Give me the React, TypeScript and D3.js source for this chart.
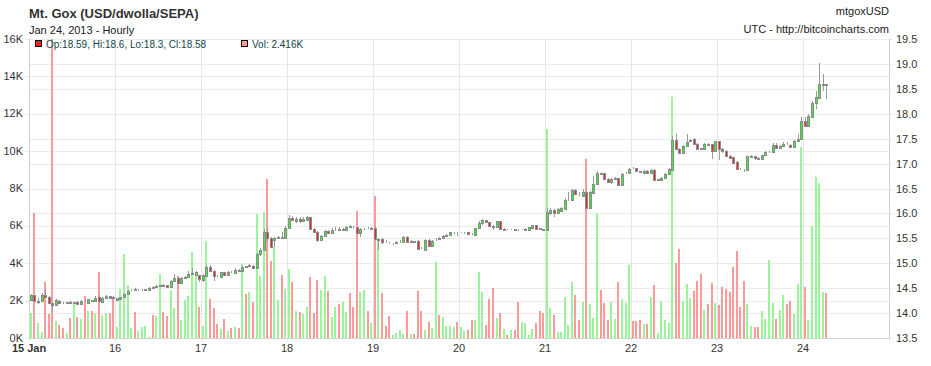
import React from 'react';
import * as d3 from 'd3';

// hourly candles, Jan 15 2013 00:00 UTC onwards
const START = Date.UTC(2013, 0, 15);
const END = Date.UTC(2013, 0, 25);
const HOUR = 3600 * 1000;

const opens = [
  14.26, 14.36, 14.23, 14.24, 14.36, 14.33, 14.21, 14.16, 14.25, 14.21,
  14.2, 14.23, 14.21, 14.23, 14.18, 14.25, 14.2, 14.26, 14.24, 14.32,
  14.22, 14.31, 14.34, 14.32, 14.27, 14.28, 14.32, 14.39, 14.46, 14.49,
  14.46, 14.46, 14.46, 14.47, 14.53, 14.53, 14.55, 14.57, 14.56, 14.53,
  14.64, 14.71, 14.6, 14.7, 14.72, 14.78, 14.76, 14.76, 14.67, 14.75,
  14.93, 14.85, 14.75, 14.73, 14.82, 14.76, 14.83, 14.8, 14.86, 14.85,
  14.94, 14.94, 14.95, 14.9, 15.18, 15.27, 15.63, 15.5, 15.47, 15.5,
  15.52, 15.5, 15.71, 15.9, 15.85, 15.89, 15.85, 15.87, 15.92, 15.68,
  15.63, 15.47, 15.55, 15.65, 15.61, 15.66, 15.68, 15.67, 15.67, 15.74,
  15.73, 15.72, 15.6, 15.68, 15.71, 15.69, 15.7, 15.46, 15.48, 15.43,
  15.41, 15.38, 15.4, 15.42, 15.43, 15.53, 15.43, 15.44, 15.45, 15.31,
  15.27, 15.47, 15.35, 15.46, 15.5, 15.5, 15.55, 15.57, 15.6, 15.61,
  15.6, 15.6, 15.62, 15.59, 15.56, 15.7, 15.81, 15.86, 15.82, 15.74,
  15.72, 15.84, 15.67, 15.69, 15.66, 15.68, 15.67, 15.66, 15.67, 15.67,
  15.7, 15.76, 15.7, 15.68, 15.67, 16.0, 16.07, 16.0, 16.05, 16.09,
  16.26, 16.27, 16.47, 16.37, 16.35, 16.42, 16.1, 16.41, 16.59, 16.81,
  16.81, 16.7, 16.63, 16.7, 16.71, 16.57, 16.81, 16.81, 16.92, 16.91,
  16.85, 16.81, 16.86, 16.81, 16.88, 16.68, 16.68, 16.72, 16.8, 16.88,
  17.47, 17.3, 17.22, 17.35, 17.46, 17.5, 17.4, 17.31, 17.3, 17.39,
  17.39, 17.25, 17.45, 17.3, 17.26, 17.16, 17.13, 17.04, 16.9, 16.9,
  16.87, 17.14, 17.15, 17.12, 17.1, 17.17, 17.23, 17.23, 17.37, 17.31,
  17.35, 17.4, 17.38, 17.33, 17.46, 17.5, 17.85, 17.76, 17.94, 18.21,
  18.32, 18.58, 18.59,
];

const highs = [
  14.38, 14.37, 14.3, 14.4, 14.48, 14.34, 14.22, 14.28, 14.26, 14.22,
  14.23, 14.24, 14.23, 14.24, 14.26, 14.27, 14.29, 14.27, 14.34, 14.36,
  14.32, 14.37, 14.35, 14.34, 14.31, 14.33, 14.4, 14.47, 14.49, 14.5,
  14.48, 14.48, 14.48, 14.52, 14.54, 14.57, 14.57, 14.58, 14.57, 14.66,
  14.78, 14.72, 14.72, 14.74, 14.85, 14.9, 14.84, 14.77, 14.78, 14.96,
  14.97, 14.86, 14.76, 14.83, 14.83, 14.84, 14.85, 14.9, 14.88, 14.95,
  14.95, 14.98, 14.96, 15.2, 15.3, 15.68, 15.7, 15.52, 15.52, 15.54,
  15.62, 15.74, 15.96, 15.95, 15.92, 15.93, 15.92, 15.95, 15.93, 15.7,
  15.65, 15.57, 15.67, 15.67, 15.7, 15.72, 15.73, 15.7, 15.75, 15.76,
  15.74, 15.73, 15.7, 15.71, 15.72, 15.72, 15.72, 15.5, 15.5, 15.46,
  15.42, 15.41, 15.44, 15.46, 15.55, 15.54, 15.46, 15.45, 15.46, 15.33,
  15.49, 15.48, 15.47, 15.5, 15.53, 15.57, 15.58, 15.63, 15.63, 15.62,
  15.63, 15.63, 15.63, 15.6, 15.71, 15.84, 15.89, 15.87, 15.83, 15.76,
  15.85, 15.85, 15.7, 15.69, 15.69, 15.68, 15.68, 15.69, 15.7, 15.73,
  15.77, 15.77, 15.71, 15.68, 16.1, 16.1, 16.09, 16.1, 16.12, 16.3,
  16.42, 16.5, 16.48, 16.42, 16.48, 16.44, 16.44, 16.75, 16.86, 16.82,
  16.82, 16.71, 16.72, 16.73, 16.72, 16.81, 16.84, 16.92, 16.93, 16.92,
  16.86, 16.87, 16.87, 16.89, 16.89, 16.7, 16.73, 16.81, 16.91, 17.55,
  17.6, 17.32, 17.37, 17.6, 17.5, 17.51, 17.41, 17.32, 17.41, 17.42,
  17.4, 17.46, 17.46, 17.32, 17.28, 17.18, 17.14, 17.06, 16.92, 16.9,
  17.16, 17.17, 17.16, 17.13, 17.18, 17.25, 17.26, 17.42, 17.42, 17.38,
  17.43, 17.43, 17.39, 17.48, 17.6, 17.93, 17.93, 17.99, 18.25, 18.45,
  19.01, 18.8, 18.6,
];

const lows = [
  14.24, 14.23, 14.19, 14.22, 14.32, 14.18, 14.03, 14.14, 14.18, 14.18,
  14.19, 14.2, 14.19, 14.17, 14.17, 14.22, 14.19, 14.23, 14.23, 14.22,
  14.2, 14.3, 14.29, 14.3, 14.26, 14.26, 14.3, 14.38, 14.45, 14.46,
  14.45, 14.44, 14.45, 14.46, 14.49, 14.52, 14.54, 14.53, 14.5, 14.52,
  14.63, 14.58, 14.58, 14.69, 14.71, 14.77, 14.74, 14.62, 14.62, 14.74,
  14.84, 14.65, 14.72, 14.72, 14.74, 14.75, 14.8, 14.79, 14.83, 14.84,
  14.91, 14.93, 14.88, 14.89, 15.15, 15.25, 15.45, 15.3, 15.33, 15.49,
  15.48, 15.49, 15.7, 15.84, 15.8, 15.8, 15.82, 15.84, 15.66, 15.6,
  15.42, 15.45, 15.53, 15.59, 15.6, 15.64, 15.65, 15.66, 15.66, 15.71,
  15.7, 15.58, 15.52, 15.67, 15.68, 15.68, 15.46, 15.27, 15.38, 15.4,
  15.38, 15.37, 15.39, 15.41, 15.42, 15.41, 15.42, 15.4, 15.27, 15.28,
  15.26, 15.33, 15.34, 15.45, 15.48, 15.49, 15.54, 15.55, 15.59, 15.55,
  15.6, 15.59, 15.57, 15.56, 15.55, 15.69, 15.76, 15.8, 15.72, 15.66,
  15.7, 15.66, 15.66, 15.66, 15.66, 15.66, 15.65, 15.66, 15.66, 15.66,
  15.69, 15.67, 15.67, 15.64, 15.66, 15.97, 15.93, 15.98, 16.04, 16.08,
  16.25, 16.26, 16.36, 16.34, 16.34, 16.08, 16.09, 16.4, 16.58, 16.78,
  16.67, 16.62, 16.6, 16.69, 16.56, 16.56, 16.8, 16.8, 16.89, 16.84,
  16.82, 16.8, 16.8, 16.8, 16.65, 16.67, 16.67, 16.71, 16.79, 16.85,
  17.28, 17.2, 17.21, 17.34, 17.45, 17.38, 17.28, 17.28, 17.29, 17.36,
  17.1, 17.24, 17.07, 17.22, 17.14, 17.1, 17.0, 16.87, 16.87, 16.84,
  16.86, 17.13, 17.08, 17.07, 17.09, 17.16, 17.22, 17.22, 17.3, 17.3,
  17.34, 17.37, 17.33, 17.32, 17.45, 17.49, 17.75, 17.75, 17.93, 18.1,
  18.3, 18.46, 18.3,
];

const closes = [
  14.36, 14.25, 14.24, 14.36, 14.33, 14.21, 14.17, 14.27, 14.2, 14.2,
  14.22, 14.21, 14.22, 14.18, 14.25, 14.24, 14.28, 14.25, 14.31, 14.24,
  14.31, 14.34, 14.3, 14.31, 14.3, 14.32, 14.39, 14.45, 14.47, 14.47,
  14.47, 14.47, 14.48, 14.5, 14.51, 14.55, 14.56, 14.55, 14.53, 14.64,
  14.71, 14.6, 14.7, 14.73, 14.78, 14.81, 14.82, 14.68, 14.76, 14.93,
  14.85, 14.74, 14.74, 14.82, 14.76, 14.82, 14.82, 14.86, 14.85, 14.93,
  14.93, 14.96, 14.9, 15.18, 15.27, 15.63, 15.5, 15.33, 15.5, 15.52,
  15.5, 15.71, 15.91, 15.87, 15.88, 15.85, 15.88, 15.93, 15.68, 15.62,
  15.47, 15.55, 15.65, 15.61, 15.66, 15.67, 15.67, 15.68, 15.73, 15.73,
  15.72, 15.6, 15.68, 15.69, 15.7, 15.7, 15.48, 15.48, 15.42, 15.42,
  15.4, 15.39, 15.42, 15.43, 15.53, 15.43, 15.44, 15.42, 15.29, 15.3,
  15.47, 15.35, 15.45, 15.47, 15.49, 15.55, 15.56, 15.62, 15.61, 15.6,
  15.61, 15.61, 15.58, 15.58, 15.7, 15.81, 15.86, 15.82, 15.74, 15.73,
  15.84, 15.68, 15.68, 15.68, 15.67, 15.67, 15.66, 15.67, 15.68, 15.72,
  15.76, 15.68, 15.69, 15.66, 16.03, 16.07, 16.01, 16.08, 16.1, 16.27,
  16.27, 16.47, 16.38, 16.36, 16.42, 16.1, 16.42, 16.59, 16.81, 16.8,
  16.69, 16.63, 16.7, 16.71, 16.57, 16.8, 16.82, 16.9, 16.91, 16.85,
  16.84, 16.86, 16.81, 16.88, 16.67, 16.69, 16.72, 16.8, 16.89, 17.47,
  17.3, 17.22, 17.35, 17.44, 17.48, 17.4, 17.3, 17.3, 17.39, 17.38,
  17.25, 17.45, 17.3, 17.25, 17.16, 17.12, 17.02, 16.9, 16.89, 16.89,
  17.15, 17.15, 17.12, 17.1, 17.17, 17.24, 17.24, 17.37, 17.31, 17.35,
  17.4, 17.39, 17.34, 17.46, 17.5, 17.85, 17.76, 17.96, 18.21, 18.34,
  18.59, 18.59, 18.58,
];

// volume in thousands of BTC
const volumes = [
  1.32, 6.67, 0.79, 0.3, 3.0, 1.28, 16.4, 0.91, 0.71, 0.53,
  0.27, 1.07, 1.8, 1.12, 1.03, 2.25, 1.44, 1.44, 1.32, 3.55,
  1.23, 1.32, 1.32, 2.14, 0.61, 2.62, 4.49, 2.84, 0.53, 1.39,
  0.37, 0.59, 0.64, 0.07, 1.23, 1.18, 3.42, 1.39, 1.18, 2.57,
  1.6, 3.32, 0.96, 2.03, 2.25, 4.6, 3.46, 1.68, 0.64, 5.19,
  2.09, 1.6, 0.77, 0.48, 1.02, 0.39, 0.53, 0.59, 0.53, 3.96,
  2.35, 2.46, 1.93, 6.63, 3.32, 6.74, 8.5, 4.12, 4.89, 2.03,
  3.37, 2.62, 3.69, 3.0, 1.44, 1.39, 1.28, 1.66, 3.26, 1.34,
  3.1, 2.57, 3.32, 2.51, 1.12, 1.66, 1.82, 1.93, 1.39, 2.41,
  1.66, 6.8, 2.46, 2.57, 1.44, 0.8, 7.6, 5.24, 2.41, 0.64,
  1.18, 0.16, 0.27, 0.41, 0.21, 1.44, 0.21, 0.21, 2.51, 1.44,
  0.43, 0.85, 0.53, 4.07, 1.25, 1.12, 0.64, 0.64, 0.59, 0.85,
  0.59, 0.37, 0.43, 0.96, 0.96, 3.53, 2.46, 0.69, 2.09, 2.68,
  1.07, 1.34, 0.48, 0.16, 0.43, 0.43, 1.93, 0.85, 0.8, 0.16,
  0.48, 0.8, 1.44, 1.34, 11.2, 1.6, 1.23, 0.32, 0.32, 2.19,
  0.7, 3.0, 2.3, 0.96, 1.93, 9.58, 1.82, 1.07, 6.69, 2.57,
  1.87, 0.96, 1.93, 1.02, 3.0, 2.09, 1.87, 3.9, 0.91, 0.91,
  0.96, 0.75, 0.75, 2.19, 2.84, 0.27, 2.0, 0.96, 0.8, 12.9,
  4.01, 4.76, 1.98, 2.89, 2.14, 2.51, 3.05, 3.42, 1.5, 1.82,
  2.94, 1.87, 1.77, 2.73, 2.62, 2.46, 3.8, 4.65, 1.66, 3.05,
  1.82, 0.64, 0.59, 0.59, 1.44, 1.02, 4.17, 1.87, 1.02, 1.5,
  2.3, 1.82, 1.98, 1.28, 2.89, 10.2, 2.73, 0.96, 5.99, 8.61,
  8.29, 2.46, 2.416,
];

const volTicks = [0, 2, 4, 6, 8, 10, 12, 14, 16];
const priceTicks = [13.5, 14, 14.5, 15, 15.5, 16, 16.5, 17, 17.5, 18, 18.5, 19, 19.5];

const FONT = '"Liberation Sans", Arial, Helvetica, sans-serif';
const UP = '#33ee33';
const DOWN = '#ee2222';
const VOL_UP = '#9af59a';
const VOL_DOWN = '#fc9a9a';

export default function App() {
  const width = 931;
  const height = 366;
  const left = 29;
  const right = 889;
  const top = 39;
  const bottom = 338;

  const x = d3.scaleUtc().domain([START, END]).range([left, right]);
  const yPrice = d3.scaleLinear().domain([13.5, 19.5]).range([bottom, top]);
  const yVol = d3.scaleLinear().domain([0, 16]).range([bottom, top]).clamp(true);

  const days = x.ticks(d3.utcDay.every(1));
  const fmtFirst = d3.utcFormat('%-d %b');
  const fmtDay = d3.utcFormat('%-d');

  const candles = closes.map((c, i) => ({
    cx: Math.round(x(START + i * HOUR + HOUR / 2)),
    o: opens[i],
    h: highs[i],
    l: lows[i],
    c,
    v: volumes[i],
    up: c >= opens[i],
  }));

  const last = candles[candles.length - 1];

  return (
    <div style={{ position: 'absolute', left: 0, top: 0, background: '#fff' }}>
      <svg width={width} height={height} style={{ display: 'block', fontFamily: FONT }}>
        <rect width={width} height={height} fill="#fff" />

        {/* grid */}
        <g shapeRendering="crispEdges">
          {volTicks.map(t => (
            <line key={'gv' + t} x1={left - 4} x2={right} y1={Math.round(yVol(t)) + 0.5} y2={Math.round(yVol(t)) + 0.5} stroke="#ececec" />
          ))}
          {priceTicks.map(t => (
            <line key={'gp' + t} x1={left} x2={right + 4} y1={Math.round(yPrice(t)) + 0.5} y2={Math.round(yPrice(t)) + 0.5} stroke="#ececec" />
          ))}
          {days.map(d => (
            <line key={'gd' + +d} x1={Math.round(x(d)) + 0.5} x2={Math.round(x(d)) + 0.5} y1={top} y2={bottom + 3} stroke="#e6e6e6" />
          ))}
          <line x1={left + 0.5} x2={left + 0.5} y1={top} y2={bottom} stroke="#d0d0d0" />
          <line x1={right + 0.5} x2={right + 0.5} y1={top} y2={bottom} stroke="#d0d0d0" />
          <line x1={left} x2={right} y1={bottom + 0.5} y2={bottom + 0.5} stroke="#d0d0d0" />
        </g>

        {/* volume bars */}
        <g shapeRendering="crispEdges">
          <clipPath id="plotClip">
            <rect x={left} y={top} width={right - left} height={bottom - top} />
          </clipPath>
          <g clipPath="url(#plotClip)">
            {candles.map((d, i) => (
              <rect key={'v' + i} x={d.cx - 1} y={yVol(d.v)} width={2} height={bottom - yVol(d.v)} fill={d.up ? VOL_UP : VOL_DOWN} />
            ))}
          </g>
        </g>

        {/* candles */}
        <g shapeRendering="crispEdges">
          {candles.map((d, i) => {
            const yTop = Math.round(yPrice(Math.max(d.o, d.c)));
            const yBot = Math.round(yPrice(Math.min(d.o, d.c)));
            return (
              <g key={'c' + i}>
                <line x1={d.cx + 0.5} x2={d.cx + 0.5} y1={yPrice(d.h)} y2={yPrice(d.l)} stroke="#9a9a9a" />
                <rect x={d.cx - 0.5} y={yTop + 0.5} width={2} height={Math.max(0, yBot - yTop)} fill={d.up ? UP : DOWN} stroke="#8c8c8c" strokeWidth={1} />
              </g>
            );
          })}
        </g>

        {/* left axis labels */}
        {volTicks.map(t => (
          <text key={'lv' + t} x={23} y={yVol(t) + 3.5} textAnchor="end" fontSize={11} fill="#333">{t + 'K'}</text>
        ))}
        {/* right axis labels */}
        {priceTicks.map(t => (
          <text key={'rp' + t} x={896} y={yPrice(t) + 4} fontSize={11} fill="#333">{t.toFixed(1)}</text>
        ))}
        {/* bottom axis labels */}
        {days.slice(0, -1).map((d, i) => (
          <text key={'bd' + +d} x={x(d)} y={352} textAnchor="middle" fontSize={11} fill="#333" fontWeight={i === 0 ? 'bold' : 'normal'}>
            {i === 0 ? fmtFirst(d) : fmtDay(d)}
          </text>
        ))}

        {/* titles */}
        <text x={29} y={18} fontSize={13} fontWeight="bold" fill="#333">Mt. Gox (USD/dwolla/SEPA)</text>
        <text x={29} y={34} fontSize={11} fill="#222">Jan 24, 2013 - Hourly</text>
        <text x={889} y={15} fontSize={11} fill="#222" textAnchor="end">mtgoxUSD</text>
        <text x={889} y={33} fontSize={11} fill="#222" textAnchor="end">UTC - http://bitcoincharts.com</text>

        {/* legend */}
        <rect x={35.5} y={40.5} width={6} height={6} fill={DOWN} stroke="#111" shapeRendering="crispEdges" />
        <text x={46} y={48} fontSize={10} fill="#0e4646">
          {`Op:${last.o}, Hi:${last.h}, Lo:${last.l}, Cl:${last.c}`}
        </text>
        <rect x={241.5} y={40.5} width={6} height={6} fill={VOL_DOWN} stroke="#111" shapeRendering="crispEdges" />
        <text x={252} y={48} fontSize={10} fill="#0e4646">{`Vol: ${last.v.toFixed(3)}K`}</text>
      </svg>
    </div>
  );
}
